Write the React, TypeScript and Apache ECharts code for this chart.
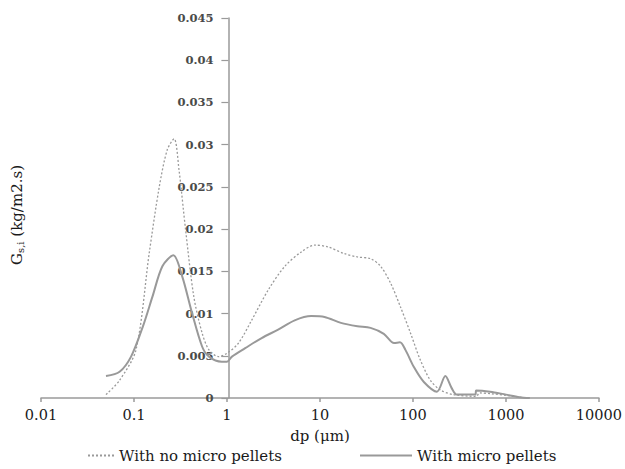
import React, { useEffect, useRef } from "react";
import * as echarts from "echarts";

const dpNoPellets = [0.05, 0.07, 0.105, 0.146, 0.187, 0.228, 0.27, 0.305, 0.359, 0.44, 0.54, 0.64, 0.81, 1, 1.33, 1.84, 2.78, 4.19, 6.3, 8.8, 12.1, 18.3, 25.3, 35, 44.9, 57.5, 73.3, 94, 120, 154, 197, 272, 480, 520, 700, 1000, 1400, 1800];
const gNoPellets = [0.0004, 0.0021, 0.0057, 0.0172, 0.025, 0.0294, 0.0307, 0.027, 0.0199, 0.012, 0.0077, 0.0057, 0.0049, 0.0053, 0.0065, 0.0092, 0.0128, 0.0156, 0.0173, 0.0181, 0.0179, 0.0171, 0.0167, 0.0165, 0.0156, 0.0136, 0.0108, 0.0077, 0.0045, 0.0021, 0.00095, 0.0004, 0.0002, 0.0006, 0.0005, 0.0003, 0.0001, 0];

const dpPellets = [0.05, 0.07, 0.093, 0.124, 0.158, 0.202, 0.265, 0.33, 0.42, 0.54, 0.64, 0.88, 1, 1.13, 1.57, 2.36, 3.55, 5.35, 8.06, 11.2, 16.8, 25.3, 35, 48.6, 62.6, 72.5, 83, 102, 131, 181, 223, 260, 297, 470, 478, 676, 1000, 1400, 1800];
const gPellets = [0.0026, 0.0031, 0.0049, 0.0084, 0.012, 0.0156, 0.0169, 0.0144, 0.0101, 0.0061, 0.0049, 0.0043, 0.0043, 0.0049, 0.0059, 0.0071, 0.0081, 0.0092, 0.0097, 0.0096, 0.0089, 0.0085, 0.0083, 0.0076, 0.0065, 0.0066, 0.0057, 0.0037, 0.0019, 0.00075, 0.0026, 0.0012, 0.0004, 0.0004, 0.0009, 0.00075, 0.0004, 0.0001, 0];

const seriesNames = ["With no micro pellets", "With micro pellets"];
const xTickLabels: Record<string, string> = { "0.01": "0.01", "0.1": "0.1", "1": "1", "10": "10", "100": "100", "1000": "1000", "10000": "10000" };

const FONT = "DejaVu Serif";

export default function App() {
  const ref = useRef<HTMLDivElement>(null);
  useEffect(() => {
    if (!ref.current) return;
    const chart = echarts.init(ref.current, undefined, { renderer: "svg" });
    const pairs = (xs: number[], ys: number[]) => xs.map((x, i) => [x, ys[i]]);
    const legendText = { fontFamily: FONT, fontSize: 15, color: "#1a1a1a" };
    chart.setOption({
      animation: false,
      grid: { left: 41, right: 22, top: 18, bottom: 71 },
      xAxis: {
        type: "log",
        logBase: 10,
        min: 0.01,
        max: 10000,
        name: "dp (μm)",
        nameLocation: "middle",
        nameGap: 30,
        nameTextStyle: { fontFamily: FONT, fontSize: 15, color: "#1a1a1a" },
        axisLine: { lineStyle: { color: "#9a9a9a", width: 1.5 } },
        axisTick: { show: true, length: 4, lineStyle: { color: "#9a9a9a", width: 1.5 } },
        minorTick: { show: false },
        splitLine: { show: false },
        axisLabel: {
          fontFamily: FONT,
          fontSize: 14.5,
          color: "#1a1a1a",
          margin: 9,
          formatter: (v: number) => {
            const k = String(+v.toPrecision(6));
            return xTickLabels[k] ?? k;
          },
        },
      },
      yAxis: {
        type: "value",
        min: 0,
        max: 0.045,
        interval: 0.005,
        offset: -187.4,
        axisLine: { show: true, lineStyle: { color: "#9a9a9a", width: 1.5 } },
        axisTick: { show: true, length: 7, lineStyle: { color: "#9a9a9a", width: 1.2 } },
        splitLine: { show: false },
        axisLabel: {
          fontFamily: FONT,
          fontSize: 11.5,
          fontWeight: "bold",
          color: "#4a4a4a",
          margin: 15,
          formatter: (v: number) => String(+v.toFixed(3)),
        },
      },
      legend: [
        {
          top: 448,
          left: 87,
          padding: 0,
          itemWidth: 26,
          itemHeight: 12,
          itemGap: 0,
          itemStyle: { opacity: 0 },
          textStyle: legendText,
          data: [seriesNames[0]],
        },
        {
          top: 448,
          left: 359,
          padding: 0,
          itemWidth: 52,
          itemHeight: 12,
          itemGap: 0,
          itemStyle: { opacity: 0 },
          textStyle: legendText,
          data: [seriesNames[1]],
        },
      ],
      graphic: [
        {
          type: "text",
          left: 9,
          top: 165,
          rotation: Math.PI / 2,
          style: {
            text: "{a|G}{b|s,i}{a| (kg/m2.s)}",
            rich: {
              a: { fontFamily: FONT, fontSize: 15, fill: "#1a1a1a" },
              b: { fontFamily: FONT, fontSize: 10, fill: "#1a1a1a", padding: [7, 0, 0, 0] },
            },
          },
        },
      ],
      series: [
        {
          name: seriesNames[0],
          type: "line",
          data: pairs(dpNoPellets, gNoPellets),
          smooth: 0.3,
          showSymbol: false,
          symbol: "none",
          lineStyle: { color: "#9a9a9a", width: 1.3, type: [2, 2] },
          itemStyle: { color: "#9a9a9a" },
        },
        {
          name: seriesNames[1],
          type: "line",
          data: pairs(dpPellets, gPellets),
          smooth: 0.3,
          showSymbol: false,
          symbol: "none",
          lineStyle: { color: "#999", width: 2 },
          itemStyle: { color: "#999" },
        },
      ],
    });
    return () => chart.dispose();
  }, []);
  return <div ref={ref} style={{ position: "absolute", left: 0, top: 0, width: 625, height: 469 }} />;
}
